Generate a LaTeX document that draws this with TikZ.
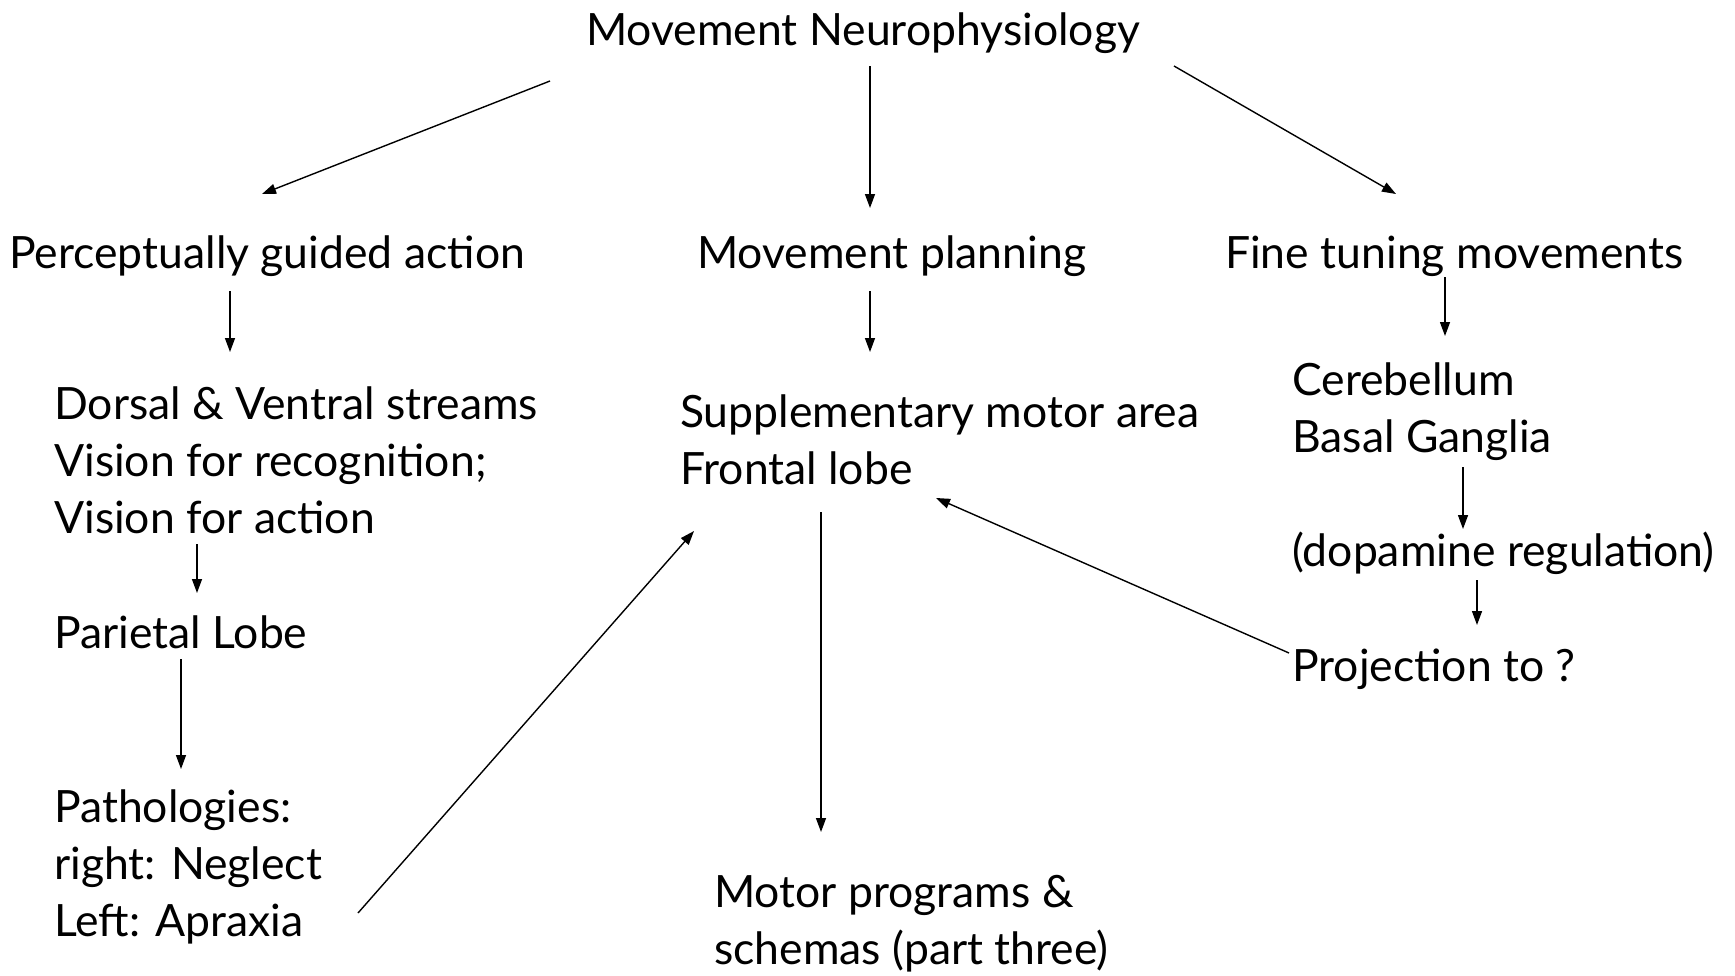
\documentclass[tikz,border=0pt]{standalone}
\usepackage{fontspec}
\setmainfont{Lato}
\usetikzlibrary{arrows.meta}

\begin{document}
\begin{tikzpicture}[x = 1pt, y = -1pt,
        txt/.style = {anchor = base west, inner sep = 0, align = left, font = \fontsize{44.5}{57}\selectfont},
        arr/.style = {-{Triangle[length = 14pt, width = 10pt]}, line width = 1.4pt}]
    \useasboundingbox (0,0) rectangle (1735,975);

    % the base of a node of several lines is its last line
    \node [txt] (title)    at (586,45)   {Movement Neurophysiology};

    \node [txt] (pga)      at (9,268)    {Perceptually guided action};
    \node [txt] (plan)     at (697,268)  {Movement planning};
    \node [txt] (fine)     at (1225,268) {Fine tuning movements};

    \node [txt] (streams)  at (54,533)   {Dorsal \& Ventral streams\\Vision for recognition;\\Vision for action};
    \node [txt] (parietal) at (54,648)   {Parietal Lobe};
    \node [txt] (patho)    at (54,936)   {Pathologies:\\right: Neglect\\Left: Apraxia};

    \node [txt] (sma)      at (680,484)  {Supplementary motor area\\Frontal lobe};
    \node [txt] (motor)    at (714,964)  {Motor programs \&\\schemas (part three)};

    \node [txt] (cereb)    at (1292,452) {Cerebellum\\Basal Ganglia};
    \node [txt] (dopa)     at (1292,566) {(dopamine regulation)};
    \node [txt] (proj)     at (1292,681) {Projection to ?};

    \draw [arr] ([shift = {(-36,36)}]title.base west)  -- ([shift = {(253,-74)}]pga.base west);
    \draw [arr] ([shift = {(284,21)}]title.base west)  -- ([shift = {(173,-60)}]plan.base west);
    \draw [arr] ([shift = {(588,21)}]title.base west)  -- ([shift = {(171,-74)}]fine.base west);

    \draw [arr] ([shift = {(221,23)}]pga.base west)      -- ([shift = {(176,-181)}]streams.base west);
    \draw [arr] ([shift = {(143,11)}]streams.base west)  -- ([shift = {(143,-55)}]parietal.base west);
    \draw [arr] ([shift = {(127,11)}]parietal.base west) -- ([shift = {(127,-167)}]patho.base west);

    \draw [arr] ([shift = {(173,23)}]plan.base west)  -- ([shift = {(190,-132)}]sma.base west);
    \draw [arr] ([shift = {(141,28)}]sma.base west)   -- ([shift = {(107,-132)}]motor.base west);

    \draw [arr] ([shift = {(220,9)}]fine.base west)   -- ([shift = {(153,-116)}]cereb.base west);
    \draw [arr] ([shift = {(171,15)}]cereb.base west) -- ([shift = {(171,-37)}]dopa.base west);
    \draw [arr] ([shift = {(185,14)}]dopa.base west)  -- ([shift = {(185,-56)}]proj.base west);

    \draw [arr] ([shift = {(304,-23)}]patho.base west) -- ([shift = {(14,47)}]sma.base west);
    \draw [arr] ([shift = {(-3,-28)}]proj.base west)   -- ([shift = {(256,14)}]sma.base west);
\end{tikzpicture}
\end{document}
